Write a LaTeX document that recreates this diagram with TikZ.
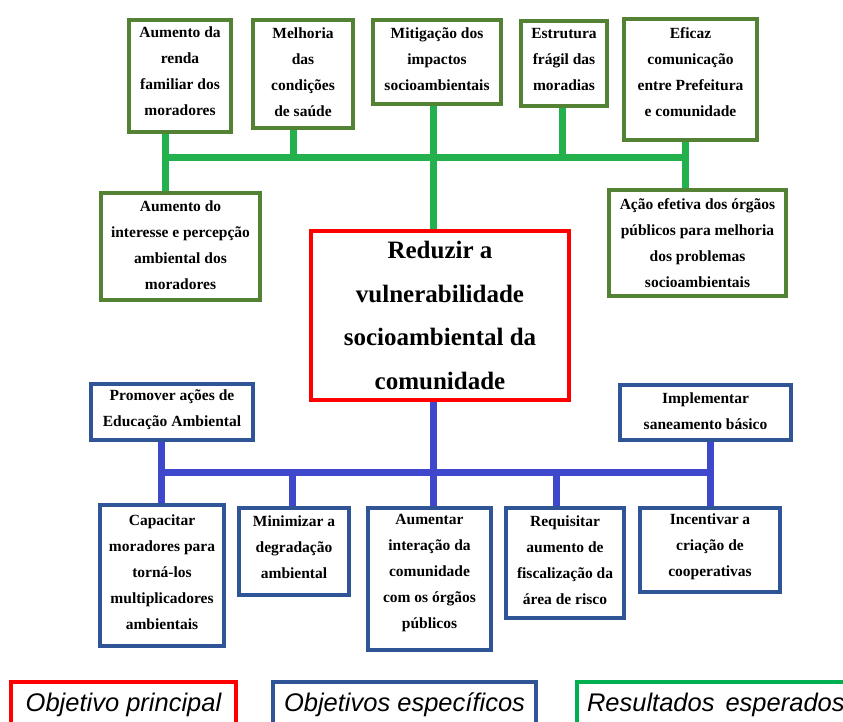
\documentclass[tikz,border=0pt]{standalone}
\usepackage{fontspec}
\setmainfont{Liberation Serif}
\newfontfamily\legfont{Liberation Sans}
\usetikzlibrary{shadows}
\pgfdeclarelayer{back}
\pgfdeclarelayer{bg}
\pgfsetlayers{back,bg,main}
\definecolor{gbord}{HTML}{548235}
\definecolor{gline}{HTML}{22B14C}
\definecolor{bbord}{HTML}{2F5597}
\definecolor{bline}{HTML}{3F48CC}
\definecolor{legg}{HTML}{00B050}
\tikzset{
  box/.style={draw, line width=3.5pt, fill=white, inner sep=0pt,
    drop shadow={shadow xshift=-1.5pt, shadow yshift=-1.5pt, opacity=0.35, fill=black}},
  gbox/.style={box, draw=gbord},
  bbox/.style={box, draw=bbord},
  rbox/.style={box, draw=red, line width=4pt},
  txt/.style={align=center, font=\fontsize{15.5}{26}\selectfont\bfseries, inner sep=0pt},
  bigtxt/.style={align=center, font=\fontsize{25}{43.5}\selectfont\bfseries, inner sep=0pt},
  gconn/.style={draw=gline, line width=7pt},
  bconn/.style={draw=bline, line width=7pt},
  leg/.style={draw, line width=4pt, fill=white, inner sep=0pt, overlay, font=\legfont\itshape\fontsize{25.5}{30}\selectfont},
}
% style, name, x1, y1, x2, y2, text y, text, text style
\newcommand\mkbox[9]{%
  \node[#1, minimum width={(#5-#3)*1pt}, minimum height={(#6-#4)*1pt}] (#2) at ({(#3+#5)/2},{(#4+#6)/2}) {};
  \node[#9] (#2t) at ({(#3+#5)/2},#7) {#8};
}
\begin{document}
\begin{tikzpicture}[x=1pt,y=-1pt]
\begin{pgfonlayer}{back}
\useasboundingbox[fill=white] (0,0) rectangle (843,722);
\end{pgfonlayer}
% green result boxes
\mkbox{gbox}{r1}{129}{20}{231}{132}{71.5}{Aumento da\\renda\\familiar dos\\moradores}{txt}
\mkbox{gbox}{r2}{253}{20}{353}{128}{72}{Melhoria\\das\\condições\\de saúde}{txt}
\mkbox{gbox}{r3}{373}{20}{501}{104}{59}{Mitigação dos\\impactos\\socioambientais}{txt}
\mkbox{gbox}{r4}{521}{21}{607}{106}{60}{Estrutura\\frágil das\\moradias}{txt}
\mkbox{gbox}{r5}{624}{19}{757}{140}{72}{Eficaz\\comunicação\\entre Prefeitura\\e comunidade}{txt}
\mkbox{gbox}{ai}{101}{193}{260}{300}{245}{Aumento do\\interesse e percepção\\ambiental dos\\moradores}{txt}
\mkbox{gbox}{ae}{609}{190}{786}{296}{243}{Ação efetiva dos órgãos\\públicos para melhoria\\dos problemas\\socioambientais}{txt}
% main objective
\mkbox{rbox}{main}{311}{231}{569}{400}{315.5}{Reduzir a\\vulnerabilidade\\socioambiental da\\comunidade}{bigtxt}
% blue specific objectives
\mkbox{bbox}{p1}{91}{384}{253}{440}{409.5}{Promover ações de\\Educação Ambiental}{txt}
\mkbox{bbox}{p2}{620}{385}{791}{440}{411.5}{Implementar\\saneamento básico}{txt}
\mkbox{bbox}{c1}{100}{505}{224}{646}{572}{Capacitar\\moradores para\\torná-los\\multiplicadores\\ambientais}{txt}
\mkbox{bbox}{c2}{239}{508}{349}{595}{547}{Minimizar a\\degradação\\ambiental}{txt}
\mkbox{bbox}{c3}{368}{508}{491}{650}{573}{Aumentar\\interação da\\comunidade\\com os órgãos\\públicos}{txt}
\mkbox{bbox}{c4}{506}{508}{624}{618}{560}{Requisitar\\aumento de\\fiscalização da\\área de risco}{txt}
\mkbox{bbox}{c5}{640}{508}{780}{592}{547}{Incentivar a\\criação de\\cooperativas}{txt}
% connector junctions
\coordinate (gL) at (165,158);
\coordinate (g2) at (293,158);
\coordinate (g3) at (433,158);
\coordinate (g4) at (562,158);
\coordinate (gR) at (685,158);
\coordinate (uL) at (161,472);
\coordinate (u2) at (292,472);
\coordinate (u3) at (433,472);
\coordinate (u4) at (556,472);
\coordinate (uR) at (710,472);
\begin{pgfonlayer}{bg}
\draw[gconn, line cap=rect] (gL) -- (gR);
\draw[gconn] (r1.south -| gL) -- (ai.north -| gL);
\draw[gconn] (r2.south -| g2) -- (g2);
\draw[gconn] (r3.south -| g3) -- (main.north -| g3);
\draw[gconn] (r4.south -| g4) -- (g4);
\draw[gconn] (r5.south -| gR) -- (ae.north -| gR);
\draw[bconn, line cap=rect] (uL) -- (uR);
\draw[bconn] (p1.south -| uL) -- (c1.north -| uL);
\draw[bconn] (u2) -- (c2.north -| u2);
\draw[bconn] (main.south -| u3) -- (c3.north -| u3);
\draw[bconn] (u4) -- (c4.north -| u4);
\draw[bconn] (p2.south -| uR) -- (c5.north -| uR);
\end{pgfonlayer}
% legend
\node[leg, draw=red, minimum width=225pt, minimum height=46pt, anchor=north west] (l1) at (9,680) {Objetivo principal};
\node[leg, draw=bbord, minimum width=263pt, minimum height=46pt, anchor=north west] (l2) at (271,680) {Objetivos específicos};
\node[leg, draw=legg, minimum height=46pt, inner xsep=10pt, anchor=north west] (l3) at (575,680) {Resultados\hspace{11pt}esperados};
\end{tikzpicture}
\end{document}
